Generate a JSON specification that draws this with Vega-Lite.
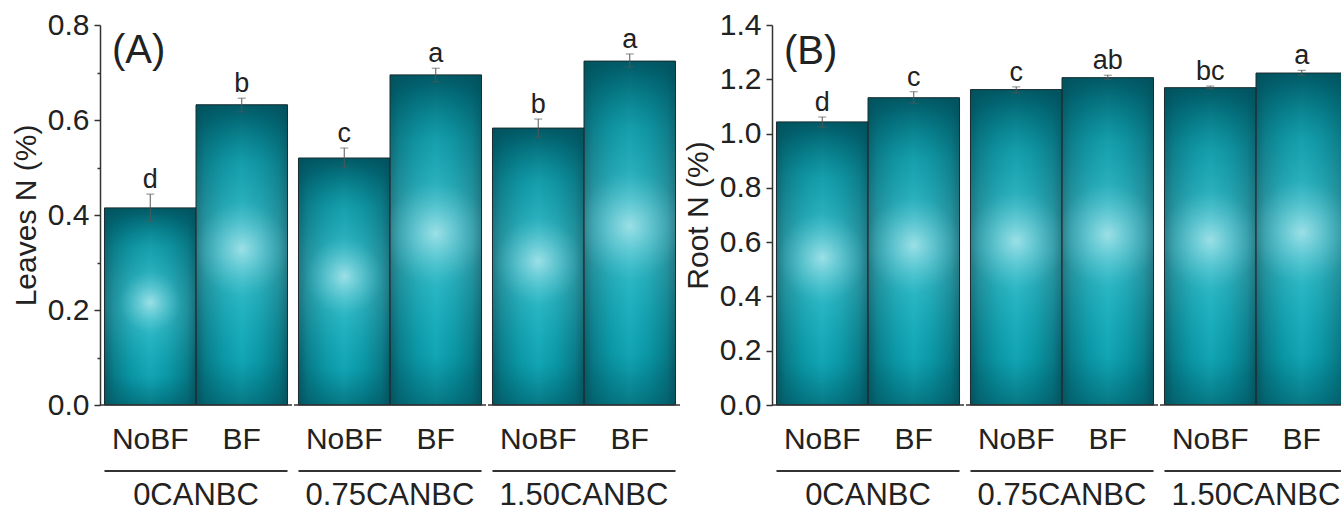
{
"$schema":"https://vega.github.io/schema/vega-lite/v6.json",
"padding":{"left":11,"top":10,"right":0,"bottom":0},
"config":{"font":"Liberation Sans","view":{"stroke":null},"axis":{"labelColor":"#222","titleColor":"#222","titleFontWeight":"normal","grid":false},"concat":{"spacing":0}},
"datasets":{"d":[
{"panel":"A","group":"0CANBC","treatment":"NoBF","mean":0.415,"lo":0.387,"hi":0.444,"letter":"d"},
{"panel":"A","group":"0CANBC","treatment":"BF","mean":0.632,"lo":0.617,"hi":0.646,"letter":"b"},
{"panel":"A","group":"0.75CANBC","treatment":"NoBF","mean":0.520,"lo":0.501,"hi":0.541,"letter":"c"},
{"panel":"A","group":"0.75CANBC","treatment":"BF","mean":0.695,"lo":0.680,"hi":0.709,"letter":"a"},
{"panel":"A","group":"1.50CANBC","treatment":"NoBF","mean":0.583,"lo":0.564,"hi":0.602,"letter":"b"},
{"panel":"A","group":"1.50CANBC","treatment":"BF","mean":0.724,"lo":0.712,"hi":0.739,"letter":"a"},
{"panel":"B","group":"0CANBC","treatment":"NoBF","mean":1.043,"lo":1.024,"hi":1.061,"letter":"d"},
{"panel":"B","group":"0CANBC","treatment":"BF","mean":1.132,"lo":1.112,"hi":1.154,"letter":"c"},
{"panel":"B","group":"0.75CANBC","treatment":"NoBF","mean":1.162,"lo":1.150,"hi":1.172,"letter":"c"},
{"panel":"B","group":"0.75CANBC","treatment":"BF","mean":1.206,"lo":1.200,"hi":1.215,"letter":"ab"},
{"panel":"B","group":"1.50CANBC","treatment":"NoBF","mean":1.169,"lo":1.165,"hi":1.175,"letter":"bc"},
{"panel":"B","group":"1.50CANBC","treatment":"BF","mean":1.223,"lo":1.215,"hi":1.233,"letter":"a"}
]},
"spacing":2,
"hconcat":[
{"spacing":0,"resolve":{"scale":{"x":"independent","y":"independent"}},"hconcat":[
 {"width":192,"height":380,"data":{"name":"d"},"transform":[{"filter":"datum.panel=='A' && datum.group=='0CANBC'"}],
  "encoding":{"x":{"field":"treatment","type":"nominal","sort":["NoBF","BF"],"scale":{"paddingInner":0,"paddingOuter":0.049},"axis":{"title":null,"domain":false,"ticks":false,"tickSize":0,"labelPadding":19,"labelFontSize":30,"labelAngle":0}}},
  "layer":[
   {"mark":{"type":"bar","fill":{"gradient":"linear","x1":0,"y1":0,"x2":1,"y2":0,"stops":[{"offset":0,"color":"#0a5560"},{"offset":0.1,"color":"#087c89"},{"offset":0.3,"color":"#0a9fae"},{"offset":0.5,"color":"#14b3c2"},{"offset":0.7,"color":"#0a9fae"},{"offset":0.9,"color":"#087c89"},{"offset":1,"color":"#0a5560"}]}},
    "encoding":{"y":{"field":"mean","type":"quantitative","scale":{"domain":[0,0.8]},"axis":{"title":"Leaves N (%)","values":[0,0.1,0.2,0.3,0.4,0.5,0.6,0.7,0.8],"labelExpr":"round(datum.value*10)%2==0 ? format(datum.value,'.1f') : ''","tickSize":{"condition":{"test":"round(datum.value*10)%2==0","value":6},"value":3},"labelPadding":5,"titlePadding":6,"labelFontSize":30,"titleFontSize":30,"domainColor":"#333","domainWidth":1.5,"tickColor":"#333","tickWidth":1.5}}}},
   {"mark":{"type":"bar","fill":{"gradient":"linear","x1":0,"y1":0,"x2":0,"y2":1,"stops":[{"offset":0,"color":"rgba(0,80,92,0.9)"},{"offset":0.2,"color":"rgba(0,100,112,0.35)"},{"offset":0.5,"color":"rgba(0,100,112,0)"},{"offset":0.85,"color":"rgba(0,100,112,0.2)"},{"offset":1,"color":"rgba(0,80,92,0.6)"}]}},"encoding":{"y":{"field":"mean","type":"quantitative"}}},
   {"mark":{"type":"bar","stroke":"#1a2c30","strokeWidth":1,"fill":{"gradient":"radial","x1":0.5,"y1":0.48,"r1":0,"x2":0.5,"y2":0.48,"r2":0.45,"stops":[{"offset":0,"color":"rgba(190,235,240,0.8)"},{"offset":0.35,"color":"rgba(100,205,215,0.3)"},{"offset":1,"color":"rgba(20,180,195,0)"}]}},"encoding":{"y":{"field":"mean","type":"quantitative"}}},
   {"mark":{"type":"rule","color":"#555","strokeWidth":1},"encoding":{"y":{"field":"lo","type":"quantitative"},"y2":{"field":"hi"}}},
   {"mark":{"type":"tick","orient":"horizontal","color":"#555","thickness":1,"size":8},"encoding":{"y":{"field":"lo","type":"quantitative"}}},
   {"mark":{"type":"tick","orient":"horizontal","color":"#555","thickness":1,"size":8},"encoding":{"y":{"field":"hi","type":"quantitative"}}},
   {"mark":{"type":"text","fontSize":27,"baseline":"alphabetic","dy":-6,"color":"#222"},"encoding":{"y":{"field":"hi","type":"quantitative"},"text":{"field":"letter"}}},
   {"data":{"values":[{}]},"mark":{"type":"rule","color":"#333","strokeWidth":1.5},"encoding":{"x":{"value":0},"x2":{"value":"width"},"y":{"datum":0}}},
   {"data":{"values":[{}]},"mark":{"type":"rule","color":"#333","strokeWidth":2},"encoding":{"x":{"datum":"NoBF","bandPosition":0},"x2":{"datum":"BF","bandPosition":1},"y":{"datum":-0.139}}},
   {"data":{"values":[{}]},"mark":{"type":"text","fontSize":31,"baseline":"alphabetic","color":"#222"},"encoding":{"x":{"datum":"BF","bandPosition":0},"y":{"datum":-0.2105},"text":{"value":"0CANBC"}}},
   {"data":{"values":[{}]},"mark":{"type":"text","fontSize":40,"align":"left","baseline":"alphabetic","dx":7.5,"color":"#222"},"encoding":{"x":{"datum":"NoBF","bandPosition":0},"y":{"datum":0.72},"text":{"value":"(A)"}}}
  ]},
 {"width":192,"height":380,"data":{"name":"d"},"transform":[{"filter":"datum.panel=='A' && datum.group=='0.75CANBC'"}],
  "encoding":{"x":{"field":"treatment","type":"nominal","sort":["NoBF","BF"],"scale":{"paddingInner":0,"paddingOuter":0.049},"axis":{"title":null,"domain":false,"ticks":false,"tickSize":0,"labelPadding":19,"labelFontSize":30,"labelAngle":0}}},
  "layer":[
   {"mark":{"type":"bar","fill":{"gradient":"linear","x1":0,"y1":0,"x2":1,"y2":0,"stops":[{"offset":0,"color":"#0a5560"},{"offset":0.1,"color":"#087c89"},{"offset":0.3,"color":"#0a9fae"},{"offset":0.5,"color":"#14b3c2"},{"offset":0.7,"color":"#0a9fae"},{"offset":0.9,"color":"#087c89"},{"offset":1,"color":"#0a5560"}]}},"encoding":{"y":{"field":"mean","type":"quantitative","scale":{"domain":[0,0.8]},"axis":null}}},
   {"mark":{"type":"bar","fill":{"gradient":"linear","x1":0,"y1":0,"x2":0,"y2":1,"stops":[{"offset":0,"color":"rgba(0,80,92,0.9)"},{"offset":0.2,"color":"rgba(0,100,112,0.35)"},{"offset":0.5,"color":"rgba(0,100,112,0)"},{"offset":0.85,"color":"rgba(0,100,112,0.2)"},{"offset":1,"color":"rgba(0,80,92,0.6)"}]}},"encoding":{"y":{"field":"mean","type":"quantitative","axis":null}}},
   {"mark":{"type":"bar","stroke":"#1a2c30","strokeWidth":1,"fill":{"gradient":"radial","x1":0.5,"y1":0.48,"r1":0,"x2":0.5,"y2":0.48,"r2":0.45,"stops":[{"offset":0,"color":"rgba(190,235,240,0.8)"},{"offset":0.35,"color":"rgba(100,205,215,0.3)"},{"offset":1,"color":"rgba(20,180,195,0)"}]}},"encoding":{"y":{"field":"mean","type":"quantitative","axis":null}}},
   {"mark":{"type":"rule","color":"#555","strokeWidth":1},"encoding":{"y":{"field":"lo","type":"quantitative","axis":null},"y2":{"field":"hi"}}},
   {"mark":{"type":"tick","orient":"horizontal","color":"#555","thickness":1,"size":8},"encoding":{"y":{"field":"lo","type":"quantitative","axis":null}}},
   {"mark":{"type":"tick","orient":"horizontal","color":"#555","thickness":1,"size":8},"encoding":{"y":{"field":"hi","type":"quantitative","axis":null}}},
   {"mark":{"type":"text","fontSize":27,"baseline":"alphabetic","dy":-6,"color":"#222"},"encoding":{"y":{"field":"hi","type":"quantitative","axis":null},"text":{"field":"letter"}}},
   {"data":{"values":[{}]},"mark":{"type":"rule","color":"#333","strokeWidth":1.5},"encoding":{"x":{"value":0},"x2":{"value":"width"},"y":{"datum":0,"axis":null}}},
   {"data":{"values":[{}]},"mark":{"type":"rule","color":"#333","strokeWidth":2},"encoding":{"x":{"datum":"NoBF","bandPosition":0},"x2":{"datum":"BF","bandPosition":1},"y":{"datum":-0.139,"axis":null}}},
   {"data":{"values":[{}]},"mark":{"type":"text","fontSize":31,"baseline":"alphabetic","color":"#222"},"encoding":{"x":{"datum":"BF","bandPosition":0},"y":{"datum":-0.2105,"axis":null},"text":{"value":"0.75CANBC"}}}
  ]},
 {"width":192,"height":380,"data":{"name":"d"},"transform":[{"filter":"datum.panel=='A' && datum.group=='1.50CANBC'"}],
  "encoding":{"x":{"field":"treatment","type":"nominal","sort":["NoBF","BF"],"scale":{"paddingInner":0,"paddingOuter":0.049},"axis":{"title":null,"domain":false,"ticks":false,"tickSize":0,"labelPadding":19,"labelFontSize":30,"labelAngle":0}}},
  "layer":[
   {"mark":{"type":"bar","fill":{"gradient":"linear","x1":0,"y1":0,"x2":1,"y2":0,"stops":[{"offset":0,"color":"#0a5560"},{"offset":0.1,"color":"#087c89"},{"offset":0.3,"color":"#0a9fae"},{"offset":0.5,"color":"#14b3c2"},{"offset":0.7,"color":"#0a9fae"},{"offset":0.9,"color":"#087c89"},{"offset":1,"color":"#0a5560"}]}},"encoding":{"y":{"field":"mean","type":"quantitative","scale":{"domain":[0,0.8]},"axis":null}}},
   {"mark":{"type":"bar","fill":{"gradient":"linear","x1":0,"y1":0,"x2":0,"y2":1,"stops":[{"offset":0,"color":"rgba(0,80,92,0.9)"},{"offset":0.2,"color":"rgba(0,100,112,0.35)"},{"offset":0.5,"color":"rgba(0,100,112,0)"},{"offset":0.85,"color":"rgba(0,100,112,0.2)"},{"offset":1,"color":"rgba(0,80,92,0.6)"}]}},"encoding":{"y":{"field":"mean","type":"quantitative","axis":null}}},
   {"mark":{"type":"bar","stroke":"#1a2c30","strokeWidth":1,"fill":{"gradient":"radial","x1":0.5,"y1":0.48,"r1":0,"x2":0.5,"y2":0.48,"r2":0.45,"stops":[{"offset":0,"color":"rgba(190,235,240,0.8)"},{"offset":0.35,"color":"rgba(100,205,215,0.3)"},{"offset":1,"color":"rgba(20,180,195,0)"}]}},"encoding":{"y":{"field":"mean","type":"quantitative","axis":null}}},
   {"mark":{"type":"rule","color":"#555","strokeWidth":1},"encoding":{"y":{"field":"lo","type":"quantitative","axis":null},"y2":{"field":"hi"}}},
   {"mark":{"type":"tick","orient":"horizontal","color":"#555","thickness":1,"size":8},"encoding":{"y":{"field":"lo","type":"quantitative","axis":null}}},
   {"mark":{"type":"tick","orient":"horizontal","color":"#555","thickness":1,"size":8},"encoding":{"y":{"field":"hi","type":"quantitative","axis":null}}},
   {"mark":{"type":"text","fontSize":27,"baseline":"alphabetic","dy":-6,"color":"#222"},"encoding":{"y":{"field":"hi","type":"quantitative","axis":null},"text":{"field":"letter"}}},
   {"data":{"values":[{}]},"mark":{"type":"rule","color":"#333","strokeWidth":1.5},"encoding":{"x":{"value":0},"x2":{"value":"width"},"y":{"datum":0,"axis":null}}},
   {"data":{"values":[{}]},"mark":{"type":"rule","color":"#333","strokeWidth":2},"encoding":{"x":{"datum":"NoBF","bandPosition":0},"x2":{"datum":"BF","bandPosition":1},"y":{"datum":-0.139,"axis":null}}},
   {"data":{"values":[{}]},"mark":{"type":"text","fontSize":31,"baseline":"alphabetic","color":"#222"},"encoding":{"x":{"datum":"BF","bandPosition":0},"y":{"datum":-0.2105,"axis":null},"text":{"value":"1.50CANBC"}}}
  ]}
]},
{"spacing":0,"resolve":{"scale":{"x":"independent","y":"independent"}},"hconcat":[
 {"width":192,"height":380,"data":{"name":"d"},"transform":[{"filter":"datum.panel=='B' && datum.group=='0CANBC'"}],
  "encoding":{"x":{"field":"treatment","type":"nominal","sort":["NoBF","BF"],"scale":{"paddingInner":0,"paddingOuter":0.049},"axis":{"title":null,"domain":false,"ticks":false,"tickSize":0,"labelPadding":19,"labelFontSize":30,"labelAngle":0}}},
  "layer":[
   {"mark":{"type":"bar","fill":{"gradient":"linear","x1":0,"y1":0,"x2":1,"y2":0,"stops":[{"offset":0,"color":"#0a5560"},{"offset":0.1,"color":"#087c89"},{"offset":0.3,"color":"#0a9fae"},{"offset":0.5,"color":"#14b3c2"},{"offset":0.7,"color":"#0a9fae"},{"offset":0.9,"color":"#087c89"},{"offset":1,"color":"#0a5560"}]}},
    "encoding":{"y":{"field":"mean","type":"quantitative","scale":{"domain":[0,1.4]},"axis":{"title":"Root N (%)","values":[0,0.1,0.2,0.3,0.4,0.5,0.6,0.7,0.8,0.9,1.0,1.1,1.2,1.3,1.4],"labelExpr":"round(datum.value*10)%2==0 ? format(datum.value,'.1f') : ''","tickSize":{"condition":{"test":"round(datum.value*10)%2==0","value":6},"value":3},"labelPadding":5,"titlePadding":6,"labelFontSize":30,"titleFontSize":30,"domainColor":"#333","domainWidth":1.5,"tickColor":"#333","tickWidth":1.5}}}},
   {"mark":{"type":"bar","fill":{"gradient":"linear","x1":0,"y1":0,"x2":0,"y2":1,"stops":[{"offset":0,"color":"rgba(0,80,92,0.9)"},{"offset":0.2,"color":"rgba(0,100,112,0.35)"},{"offset":0.5,"color":"rgba(0,100,112,0)"},{"offset":0.85,"color":"rgba(0,100,112,0.2)"},{"offset":1,"color":"rgba(0,80,92,0.6)"}]}},"encoding":{"y":{"field":"mean","type":"quantitative"}}},
   {"mark":{"type":"bar","stroke":"#1a2c30","strokeWidth":1,"fill":{"gradient":"radial","x1":0.5,"y1":0.48,"r1":0,"x2":0.5,"y2":0.48,"r2":0.45,"stops":[{"offset":0,"color":"rgba(190,235,240,0.8)"},{"offset":0.35,"color":"rgba(100,205,215,0.3)"},{"offset":1,"color":"rgba(20,180,195,0)"}]}},"encoding":{"y":{"field":"mean","type":"quantitative"}}},
   {"mark":{"type":"rule","color":"#555","strokeWidth":1},"encoding":{"y":{"field":"lo","type":"quantitative"},"y2":{"field":"hi"}}},
   {"mark":{"type":"tick","orient":"horizontal","color":"#555","thickness":1,"size":8},"encoding":{"y":{"field":"lo","type":"quantitative"}}},
   {"mark":{"type":"tick","orient":"horizontal","color":"#555","thickness":1,"size":8},"encoding":{"y":{"field":"hi","type":"quantitative"}}},
   {"mark":{"type":"text","fontSize":27,"baseline":"alphabetic","dy":-6,"color":"#222"},"encoding":{"y":{"field":"hi","type":"quantitative"},"text":{"field":"letter"}}},
   {"data":{"values":[{}]},"mark":{"type":"rule","color":"#333","strokeWidth":1.5},"encoding":{"x":{"value":0},"x2":{"value":"width"},"y":{"datum":0}}},
   {"data":{"values":[{}]},"mark":{"type":"rule","color":"#333","strokeWidth":2},"encoding":{"x":{"datum":"NoBF","bandPosition":0},"x2":{"datum":"BF","bandPosition":1},"y":{"datum":-0.2432}}},
   {"data":{"values":[{}]},"mark":{"type":"text","fontSize":31,"baseline":"alphabetic","color":"#222"},"encoding":{"x":{"datum":"BF","bandPosition":0},"y":{"datum":-0.3685},"text":{"value":"0CANBC"}}},
   {"data":{"values":[{}]},"mark":{"type":"text","fontSize":40,"align":"left","baseline":"alphabetic","dx":7.5,"color":"#222"},"encoding":{"x":{"datum":"NoBF","bandPosition":0},"y":{"datum":1.256},"text":{"value":"(B)"}}}
  ]},
 {"width":192,"height":380,"data":{"name":"d"},"transform":[{"filter":"datum.panel=='B' && datum.group=='0.75CANBC'"}],
  "encoding":{"x":{"field":"treatment","type":"nominal","sort":["NoBF","BF"],"scale":{"paddingInner":0,"paddingOuter":0.049},"axis":{"title":null,"domain":false,"ticks":false,"tickSize":0,"labelPadding":19,"labelFontSize":30,"labelAngle":0}}},
  "layer":[
   {"mark":{"type":"bar","fill":{"gradient":"linear","x1":0,"y1":0,"x2":1,"y2":0,"stops":[{"offset":0,"color":"#0a5560"},{"offset":0.1,"color":"#087c89"},{"offset":0.3,"color":"#0a9fae"},{"offset":0.5,"color":"#14b3c2"},{"offset":0.7,"color":"#0a9fae"},{"offset":0.9,"color":"#087c89"},{"offset":1,"color":"#0a5560"}]}},"encoding":{"y":{"field":"mean","type":"quantitative","scale":{"domain":[0,1.4]},"axis":null}}},
   {"mark":{"type":"bar","fill":{"gradient":"linear","x1":0,"y1":0,"x2":0,"y2":1,"stops":[{"offset":0,"color":"rgba(0,80,92,0.9)"},{"offset":0.2,"color":"rgba(0,100,112,0.35)"},{"offset":0.5,"color":"rgba(0,100,112,0)"},{"offset":0.85,"color":"rgba(0,100,112,0.2)"},{"offset":1,"color":"rgba(0,80,92,0.6)"}]}},"encoding":{"y":{"field":"mean","type":"quantitative","axis":null}}},
   {"mark":{"type":"bar","stroke":"#1a2c30","strokeWidth":1,"fill":{"gradient":"radial","x1":0.5,"y1":0.48,"r1":0,"x2":0.5,"y2":0.48,"r2":0.45,"stops":[{"offset":0,"color":"rgba(190,235,240,0.8)"},{"offset":0.35,"color":"rgba(100,205,215,0.3)"},{"offset":1,"color":"rgba(20,180,195,0)"}]}},"encoding":{"y":{"field":"mean","type":"quantitative","axis":null}}},
   {"mark":{"type":"rule","color":"#555","strokeWidth":1},"encoding":{"y":{"field":"lo","type":"quantitative","axis":null},"y2":{"field":"hi"}}},
   {"mark":{"type":"tick","orient":"horizontal","color":"#555","thickness":1,"size":8},"encoding":{"y":{"field":"lo","type":"quantitative","axis":null}}},
   {"mark":{"type":"tick","orient":"horizontal","color":"#555","thickness":1,"size":8},"encoding":{"y":{"field":"hi","type":"quantitative","axis":null}}},
   {"mark":{"type":"text","fontSize":27,"baseline":"alphabetic","dy":-6,"color":"#222"},"encoding":{"y":{"field":"hi","type":"quantitative","axis":null},"text":{"field":"letter"}}},
   {"data":{"values":[{}]},"mark":{"type":"rule","color":"#333","strokeWidth":1.5},"encoding":{"x":{"value":0},"x2":{"value":"width"},"y":{"datum":0,"axis":null}}},
   {"data":{"values":[{}]},"mark":{"type":"rule","color":"#333","strokeWidth":2},"encoding":{"x":{"datum":"NoBF","bandPosition":0},"x2":{"datum":"BF","bandPosition":1},"y":{"datum":-0.2432,"axis":null}}},
   {"data":{"values":[{}]},"mark":{"type":"text","fontSize":31,"baseline":"alphabetic","color":"#222"},"encoding":{"x":{"datum":"BF","bandPosition":0},"y":{"datum":-0.3685,"axis":null},"text":{"value":"0.75CANBC"}}}
  ]},
 {"width":181,"height":380,"data":{"name":"d"},"transform":[{"filter":"datum.panel=='B' && datum.group=='1.50CANBC'"}],
  "encoding":{"x":{"field":"treatment","type":"nominal","sort":["NoBF","BF"],"scale":{"paddingInner":0,"paddingOuter":0.049,"range":[0,192]},"axis":{"title":null,"domain":false,"ticks":false,"tickSize":0,"labelPadding":19,"labelFontSize":30,"labelAngle":0}}},
  "layer":[
   {"mark":{"type":"bar","clip":true,"fill":{"gradient":"linear","x1":0,"y1":0,"x2":1,"y2":0,"stops":[{"offset":0,"color":"#0a5560"},{"offset":0.1,"color":"#087c89"},{"offset":0.3,"color":"#0a9fae"},{"offset":0.5,"color":"#14b3c2"},{"offset":0.7,"color":"#0a9fae"},{"offset":0.9,"color":"#087c89"},{"offset":1,"color":"#0a5560"}]}},"encoding":{"y":{"field":"mean","type":"quantitative","scale":{"domain":[0,1.4]},"axis":null}}},
   {"mark":{"type":"bar","clip":true,"fill":{"gradient":"linear","x1":0,"y1":0,"x2":0,"y2":1,"stops":[{"offset":0,"color":"rgba(0,80,92,0.9)"},{"offset":0.2,"color":"rgba(0,100,112,0.35)"},{"offset":0.5,"color":"rgba(0,100,112,0)"},{"offset":0.85,"color":"rgba(0,100,112,0.2)"},{"offset":1,"color":"rgba(0,80,92,0.6)"}]}},"encoding":{"y":{"field":"mean","type":"quantitative","axis":null}}},
   {"mark":{"type":"bar","clip":true,"stroke":"#1a2c30","strokeWidth":1,"fill":{"gradient":"radial","x1":0.5,"y1":0.48,"r1":0,"x2":0.5,"y2":0.48,"r2":0.45,"stops":[{"offset":0,"color":"rgba(190,235,240,0.8)"},{"offset":0.35,"color":"rgba(100,205,215,0.3)"},{"offset":1,"color":"rgba(20,180,195,0)"}]}},"encoding":{"y":{"field":"mean","type":"quantitative","axis":null}}},
   {"mark":{"type":"rule","color":"#555","strokeWidth":1},"encoding":{"y":{"field":"lo","type":"quantitative","axis":null},"y2":{"field":"hi"}}},
   {"mark":{"type":"tick","orient":"horizontal","color":"#555","thickness":1,"size":8},"encoding":{"y":{"field":"lo","type":"quantitative","axis":null}}},
   {"mark":{"type":"tick","orient":"horizontal","color":"#555","thickness":1,"size":8},"encoding":{"y":{"field":"hi","type":"quantitative","axis":null}}},
   {"mark":{"type":"text","fontSize":27,"baseline":"alphabetic","dy":-6,"color":"#222"},"encoding":{"y":{"field":"hi","type":"quantitative","axis":null},"text":{"field":"letter"}}},
   {"data":{"values":[{}]},"mark":{"type":"rule","color":"#333","strokeWidth":1.5},"encoding":{"x":{"value":0},"x2":{"value":"width"},"y":{"datum":0,"axis":null}}},
   {"data":{"values":[{}]},"mark":{"type":"rule","color":"#333","strokeWidth":2},"encoding":{"x":{"datum":"NoBF","bandPosition":0},"x2":{"value":"width"},"y":{"datum":-0.2432,"axis":null}}},
   {"data":{"values":[{}]},"mark":{"type":"text","fontSize":31,"baseline":"alphabetic","color":"#222"},"encoding":{"x":{"datum":"BF","bandPosition":0},"y":{"datum":-0.3685,"axis":null},"text":{"value":"1.50CANBC"}}}
  ]}
]}
]
}
